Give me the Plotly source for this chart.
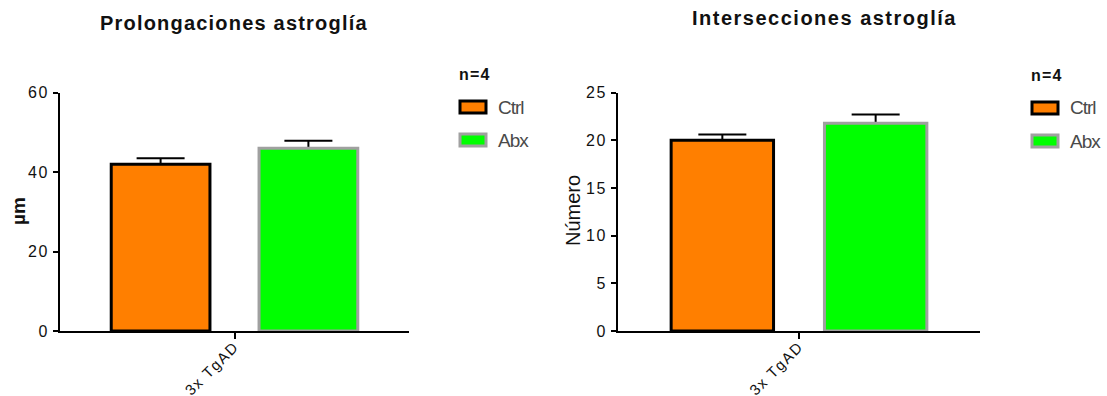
import plotly.graph_objects as go

# ---- data -------------------------------------------------------------
category = ["3x TgAD"]
groups = ["Ctrl", "Abx"]

prolong_mean = [42.0, 46.0]      # µm
prolong_sem = [1.5, 1.9]
prolong_ticks = [0, 20, 40, 60]

inters_mean = [20.0, 21.8]       # count
inters_sem = [0.6, 0.9]
inters_ticks = [0, 5, 10, 15, 20, 25]

titles = ["Prolongaciones astroglía", "Intersecciones astroglía"]
ytitles = ["µm", "Número"]
n_label = "n=4"

# ---- style ------------------------------------------------------------
W, H = 1107, 396
fill = {"Ctrl": "#FF7F00", "Abx": "#00FF00"}
edge = {"Ctrl": "#000000", "Abx": "#A0A0A0"}
FONT = "Liberation Sans, Arial, sans-serif"
INK = "#111111"


def px_x(v):
    return v / W


def px_y(v):
    return 1 - v / H


def spaced(text, sp):
    return f"<span style='letter-spacing:{sp}px'>{text}</span>"


fig = go.Figure()

panels = [
    dict(xa="x", ya="y", mean=prolong_mean, sem=prolong_sem),
    dict(xa="x2", ya="y2", mean=inters_mean, sem=inters_sem),
]

for p in panels:
    # error bars first, so the bars themselves hide the lower half
    for g, m, e in zip(groups, p["mean"], p["sem"]):
        fig.add_trace(go.Bar(
            x=category, y=[m], offsetgroup=g, xaxis=p["xa"], yaxis=p["ya"],
            marker=dict(color="rgba(0,0,0,0)", line=dict(width=0)),
            error_y=dict(type="data", array=[e], symmetric=True,
                         color="#000000", thickness=2, width=24),
            showlegend=False, hoverinfo="skip",
        ))
    for g, m in zip(groups, p["mean"]):
        fig.add_trace(go.Bar(
            x=category, y=[m], name=g, offsetgroup=g,
            xaxis=p["xa"], yaxis=p["ya"],
            marker=dict(color=fill[g], line=dict(color=edge[g], width=3)),
            showlegend=False,
        ))

axis_common = dict(
    showline=True, linecolor="#000000", linewidth=2,
    ticks="outside", tickcolor="#000000", tickwidth=2,
    showgrid=False, zeroline=False, automargin=False,
)
xtick = dict(tickmode="array", tickvals=category,
             ticktext=[spaced(c, 1.5) for c in category],
             tickangle=-45, ticklen=6, ticklabelstandoff=-7,
             tickfont=dict(family=FONT, size=15, color=INK))
ytick = dict(ticklen=5, tickmode="array", ticklabelstandoff=1,
             tickfont=dict(family=FONT, size=16, color=INK))
ydom = [0.164, 0.766]

fig.update_layout(
    width=W, height=H,
    margin=dict(l=0, r=0, t=0, b=0),
    paper_bgcolor="white", plot_bgcolor="white",
    barmode="group", bargap=0.153, bargroupgap=0.332,
    showlegend=False,
    xaxis=dict(domain=[px_x(60), px_x(409)], anchor="y", range=[-0.5, 0.5],
               **xtick, **axis_common),
    yaxis=dict(domain=ydom, anchor="x", range=[0, 60], tickvals=prolong_ticks,
               ticktext=[spaced(v, 1.5) for v in prolong_ticks],
               **ytick, **axis_common),
    xaxis2=dict(domain=[px_x(618), px_x(980)], anchor="y2", range=[-0.5, 0.5],
                **xtick, **axis_common),
    yaxis2=dict(domain=ydom, anchor="x2", range=[0, 25], tickvals=inters_ticks,
                ticktext=[spaced(v, 1.5) for v in inters_ticks],
                **ytick, **axis_common),
)

annotations = []
shapes = []

# chart titles
for t, cx, cy, sp in zip(titles, [234, 825], [23, 18], [1.2, 1.5]):
    annotations.append(dict(
        text=spaced(t, sp), x=px_x(cx), y=px_y(cy), xref="paper", yref="paper",
        xanchor="center", yanchor="middle", showarrow=False,
        font=dict(family=FONT, size=20, color=INK, weight="bold"),
    ))

# y-axis titles
for t, cx, fs, wt in zip(ytitles, [18, 573], [19, 20], ["bold", "normal"]):
    annotations.append(dict(
        text=t, x=px_x(cx), y=px_y(211), xref="paper", yref="paper",
        xanchor="center", yanchor="middle", showarrow=False, textangle=-90,
        font=dict(family=FONT, size=fs, color=INK, weight=wt),
    ))

# legends
for lx, ty in [(458, 74), (1030, 75)]:
    annotations.append(dict(
        text=spaced(n_label, 1.2), x=px_x(lx - 1), y=px_y(ty), xref="paper", yref="paper",
        xanchor="left", yanchor="middle", showarrow=False,
        font=dict(family=FONT, size=16, color=INK, weight="bold"),
    ))
    for i, g in enumerate(groups):
        cy = ty + 33 + i * 33
        shapes.append(dict(
            type="rect", xref="paper", yref="paper",
            x0=px_x(lx + 2), x1=px_x(lx + 28), y0=px_y(cy - 6), y1=px_y(cy + 6),
            fillcolor=fill[g], line=dict(color=edge[g], width=3),
        ))
        annotations.append(dict(
            text=spaced(g, -1), x=px_x(lx + 38), y=px_y(cy), xref="paper", yref="paper",
            xanchor="left", yanchor="middle", showarrow=False,
            font=dict(family=FONT, size=19, color="#4a4a4a"),
        ))

fig.update_layout(annotations=annotations, shapes=shapes)

fig.write_html("out.html")
